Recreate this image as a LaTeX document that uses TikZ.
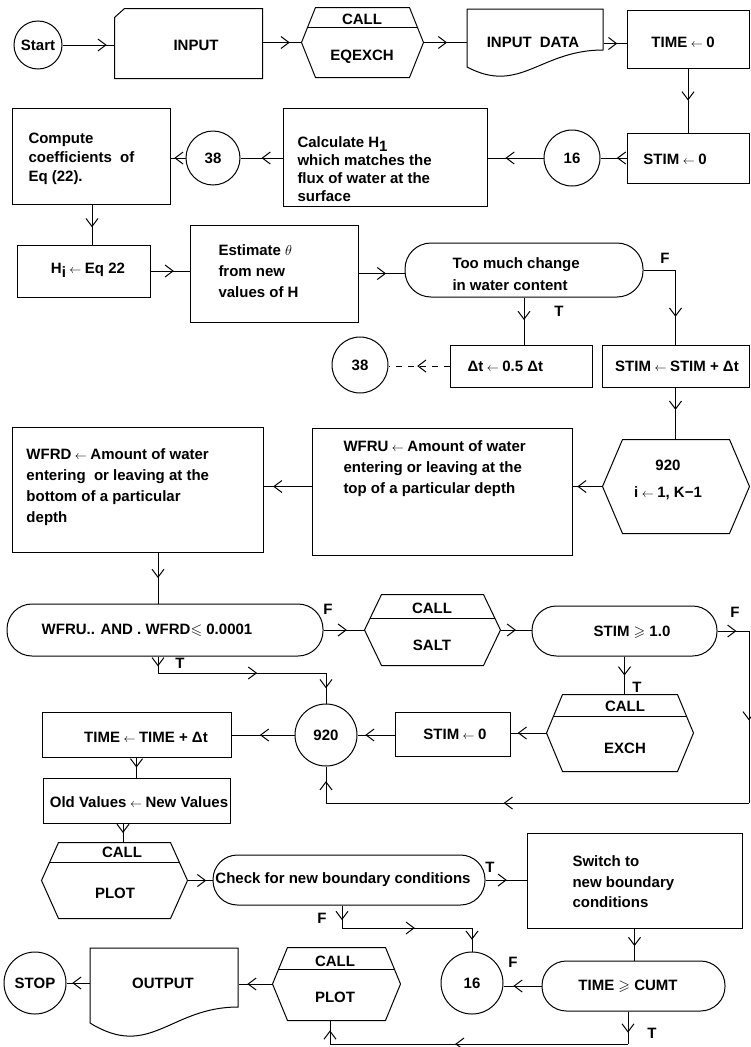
\documentclass[tikz,border=0pt]{standalone}
\usepackage{amssymb}
\usepackage{fontspec}
\setmainfont{Liberation Sans}
\usetikzlibrary{arrows.meta,decorations.markings,calc,fit}
\newcommand{\tarr}{\hspace{3.5pt}{\fontsize{12}{12}\selectfont$\leftarrow$}\hspace{3.5pt}}
\newcommand{\hexshape}[2]{\draw (#1.west) -- ([xshift=#2]#1.north west) -- ([xshift=-#2]#1.north east) -- (#1.east) -- ([xshift=-#2]#1.south east) -- ([xshift=#2]#1.south west) -- cycle;}
\newcommand{\hexdiv}[3]{\draw ($(#1.west)!#3!([xshift=#2]#1.north west)$) -- ($(#1.east)!#3!([xshift=-#2]#1.north east)$);}
\begin{document}
\begin{tikzpicture}[x=1pt,y=-1pt, line width=1pt,
 every node/.style={inner sep=0pt, font=\bfseries\fontsize{15}{18}\selectfont},
 bx/.style={draw},
 cir/.style={draw, circle, minimum size=#1},
 stad/.style={draw, rounded corners=#1},
 ml/.style={align=left, anchor=west, font=\bfseries\fontsize{15}{#1}\selectfont},
 ar/.style={postaction={decorate, decoration={markings, mark=at position #1 with {\arrow{Straight Barb[length=8pt,width=12pt]}}}}},
]
\fill[white] (0,0) rectangle (751,1047);
\useasboundingbox (0,0) rectangle (751,1047);

% ---- row 1
\node[cir=48pt] (start) at (38,45) {Start};
\node[fit={(115,9) (262,78)}] (input) {};
\draw (input.south west) -- ([yshift=-9pt]input.north west) -- ([xshift=10pt]input.north west) -- (input.north east) -- (input.south east) -- cycle;
\node (tinput) at (196,45) {INPUT};
\node[fit={(302,8) (423,77)}] (call1) {};
\hexshape{call1}{14pt}
\hexdiv{call1}{14pt}{0.43}
\node (tcall1a) at (362,19) {CALL};
\node (tcall1b) at (362,57) {EQEXCH};
\node[fit={(467,9) (603,78)}] (indata) {};
\draw (467,67) -- (467,9) -- (603,9) -- (603,50) .. controls (540,50) and (520,95) .. (467,67) -- cycle;
\node (tindata) at (533,42) {INPUT\hspace{8pt}DATA};
\node[bx, fit={(627,10) (749,68)}] (time0) {};
\node (ttime0) at (683,42) {TIME\tarr 0};

% ---- row 2
\node[bx, fit={(627,133) (749,183)}] (stim0) {};
\node (tstim0) at (675,159) {STIM\tarr 0};
\node[cir=56pt] (c16) at (572,158) {16};
\node[bx, fit={(283,108) (487,206)}] (calc) {};
\node[ml=18pt] (tcalc) at (297,169) {Calculate H\raisebox{-0.5ex}{1}\\which matches the\\flux of water at the\\surface};
\node[cir=54pt] (c38a) at (213,158) {38};
\node[bx, fit={(12,108) (170,204)}] (comp) {};
\node[ml=19pt] (tcomp) at (28,159) {Compute\\coefficients\ \ of\\Eq (22).};

% ---- row 3
\node[bx, fit={(17,245) (150,297)}] (hi) {};
\node (thi) at (88,270) {H\raisebox{-0.5ex}{i}\tarr Eq 22};
\node[bx, fit={(190,225) (358,322)}] (est) {};
\node[ml=21pt] (test) at (218,271) {Estimate $\theta$\\from new\\values of H};
\node[stad=26pt, fit={(405,243) (643,297)}] (toomuch) {};
\node[ml=22pt] (ttoomuch) at (452,274) {Too much change\\in water content};
\node (lF1) at (665,258) {F};
\node (lT1) at (559,311) {T};

% ---- row 4
\node[bx, fit={(450,345) (592,387)}] (dt) {};
\node[anchor=west] (tdt) at (467,366) {Δt\tarr 0.5 Δt};
\node[bx, fit={(602,345) (749,387)}] (stimdt) {};
\node (tstimdt) at (677,366) {STIM\tarr STIM + Δt};
\node[cir=56pt] (c38b) at (360,365) {38};

% ---- row 5
\node[fit={(603,440) (749,533)}] (hex920) {};
\hexshape{hex920}{20pt}
\node (thex1) at (668,465) {920};
\node (thex2) at (668,493) {i\tarr 1, K−1};
\node[bx, fit={(312,428) (572,555)}] (wfru) {};
\node[ml=21pt] (twfru) at (343,469) {WFRU\tarr Amount of water\\entering or leaving at the\\top of a particular depth};
\node[bx, fit={(12,427) (263,552)}] (wfrd) {};
\node[ml=21pt] (twfrd) at (26,487) {WFRD\tarr Amount of water\\entering\ \ or leaving at the\\bottom of a particular\\depth};

% ---- row 6
\node[stad=25pt, fit={(7,604) (323,656)}] (cond1) {};
\node (tcond1) at (147,630) {WFRU.. AND . WFRD$\leqslant$ 0.0001};
\node[fit={(365,595) (500,665)}] (salt) {};
\hexshape{salt}{17pt}
\hexdiv{salt}{17pt}{0.33}
\node (tsalt1) at (432,608) {CALL};
\node (tsalt2) at (432,645) {SALT};
\node[stad=24.5pt, fit={(532,606) (717,656)}] (stim1) {};
\node (tstim1) at (632,632) {STIM $\geqslant$ 1.0};
\node (lF2) at (328,609) {F};
\node (lT2) at (180,663) {T};
\node (lF3) at (735,612) {F};
\node (lT3) at (637,687) {T};

% ---- row 7
\node[fit={(547,695) (693,771)}] (exch) {};
\hexshape{exch}{16pt}
\hexdiv{exch}{16pt}{0.42}
\node (texch1) at (625,706) {CALL};
\node (texch2) at (625,748) {EXCH};
\node[bx, fit={(395,712) (510,756)}] (stim0b) {};
\node (tstim0b) at (455,734) {STIM\tarr 0};
\node[cir=62pt] (c920) at (326,735) {920};
\node[bx, fit={(42,712) (231,757)}] (timedt) {};
\node (ttimedt) at (146,737) {TIME\tarr TIME + Δt};
\node[bx, fit={(43,778) (230,823)}] (oldnew) {};
\node (toldnew) at (139,802) {Old Values\tarr New Values};

% ---- row 8
\node[fit={(42,843) (187,918)}] (plot1) {};
\hexshape{plot1}{17pt}
\hexdiv{plot1}{17pt}{0.48}
\node (tplot1a) at (122,852) {CALL};
\node (tplot1b) at (115,893) {PLOT};
\node[stad=24.5pt, fit={(213,855) (485,905)}] (check) {};
\node (tcheck) at (343,880) {Check for new boundary conditions};
\node[bx, fit={(527,833) (742,928)}] (switch) {};
\node[ml=20.5pt] (tswitch) at (572,882) {Switch to\\new boundary\\conditions};
\node (lT4) at (490,867) {T};
\node (lF4) at (322,918) {F};

% ---- row 9
\node[cir=62pt] (c16b) at (472,983) {16};
\node[stad=24.5pt, fit={(542,961) (725,1011)}] (cumt) {};
\node (tcumt) at (628,986) {TIME $\geqslant$ CUMT};
\node (lF5) at (513,962) {F};
\node (lT5) at (652,1033) {T};
\node[fit={(273,948) (400,1020)}] (plot2) {};
\hexshape{plot2}{15pt}
\hexdiv{plot2}{15pt}{0.39}
\node (tplot2a) at (335,961) {CALL};
\node (tplot2b) at (335,997) {PLOT};
\node[fit={(90,948) (238,1042)}] (output) {};
\draw (90,1023) -- (90,948) -- (238,948) -- (238,1007) .. controls (170,1007) and (150,1060) .. (90,1023) -- cycle;
\node (toutput) at (163,983) {OUTPUT};
\node[cir=62pt] (stop) at (35,983) {STOP};

% ---- corner coordinates
\coordinate (tT) at (158,673);
\coordinate (rb) at (749,803);
\coordinate (colB) at (123,0);
\coordinate (colH) at (92,0);
\coordinate (fc) at (342,928);
\coordinate (bc) at (628,1044);
\coordinate (bl) at (330,1044);

% ---- connectors
\draw[ar=0.85] (start.east) -- (start.east -| input.west);
\draw[ar=0.7] (call1.west -| input.east) -- (call1.west);
\draw[ar=0.55] (call1.east) -- (call1.east -| indata.west);
\draw[ar=0.6] (indata.east) -- (indata.east -| time0.west);
\draw[ar=0.5] (time0.south) -- (time0.south |- stim0.north);
\draw[ar=0.37] (stim0.west) -- (stim0.west -| c16.east);
\draw[ar=0.68] (c16.west) -- (c16.west -| calc.east);
\draw[ar=0.5] (calc.west |- c38a.east) -- (c38a.east);
\draw[ar=0.75] (c38a.west) -- (c38a.west -| comp.east);
\draw[ar=0.57] (comp.south -| colH) -- (hi.north -| colH);
\draw[ar=0.6] (hi.east) -- (hi.east -| est.west);
\draw[ar=0.6] (est.east) -- (est.east -| toomuch.west);
\draw[ar=0.74] (toomuch.east) -| (stimdt.north);
\draw[ar=0.48] (toomuch.south) -- (toomuch.south |- dt.north);
\draw[dash pattern=on 6pt off 6pt, ar=0.53] (dt.west) -- (dt.west -| c38b.east);
\draw[ar=0.43] (stimdt.south) -- (stimdt.south |- hex920.north);
\draw[ar=0.84] (hex920.west) -- (hex920.west -| wfru.east);
\draw[ar=0.8] (wfru.west |- hex920.west) -- (hex920.west -| wfrd.east);
\draw[ar=0.5] (wfrd.south -| tT) -- (cond1.north -| tT);
\draw[ar=0.57] (cond1.east) -- (cond1.east -| salt.west);
\draw[ar=0.5] (salt.east) -- (salt.east -| stim1.west);
\draw[ar=0.6] (stim1.east) -- (stim1.east -| rb);
\draw[ar=0.52] (stim1.east -| rb) -- (rb);
\draw[ar=0.58] (rb) -- (rb -| c920.south);
\draw[ar=0.6] (rb -| c920.south) -- (c920.south);
\draw[ar=0.5] (stim1.south) -- (stim1.south |- exch.north);
\draw[ar=0.8] (exch.west) -- (exch.west -| stim0b.east);
\draw[ar=0.79] (stim0b.west |- c920.east) -- (c920.east);
\draw[ar=0.55] (c920.west) -- (c920.west -| timedt.east);
\draw[ar=0.6] (cond1.south -| tT) -- (tT);
\draw[ar=0.59] (tT) -- (tT -| c920.north);
\draw[ar=0.5] (tT -| c920.north) -- (c920.north);
\draw[ar=0.5] (timedt.south) -- (timedt.south |- oldnew.north);
\draw[ar=0.5] (oldnew.south -| colB) -- (plot1.north -| colB);
\draw[ar=0.75] (plot1.east) -- (plot1.east -| check.west);
\draw[ar=0.52] (check.east) -- (check.east -| switch.west);
\draw[ar=0.65] (check.south -| fc) -- (fc);
\draw[ar=0.56] (fc) -- (fc -| c16b.north);
\draw[ar=0.5] (fc -| c16b.north) -- (c16b.north);
\draw[ar=0.55] (switch.south) -- (switch.south |- cumt.north);
\draw[ar=0.74] (cumt.west) -- (cumt.west -| c16b.east);
\draw[ar=0.65] (cumt.south -| bc) -- (bc);
\draw[ar=0.58] (bc) -- (bl);
\draw[ar=0.58] (bl) -- (plot2.south -| bl);
\draw[ar=0.74] (plot2.west) -- (plot2.west -| output.east);
\draw[ar=0.75] (stop.east -| output.west) -- (stop.east);
\end{tikzpicture}
\end{document}
